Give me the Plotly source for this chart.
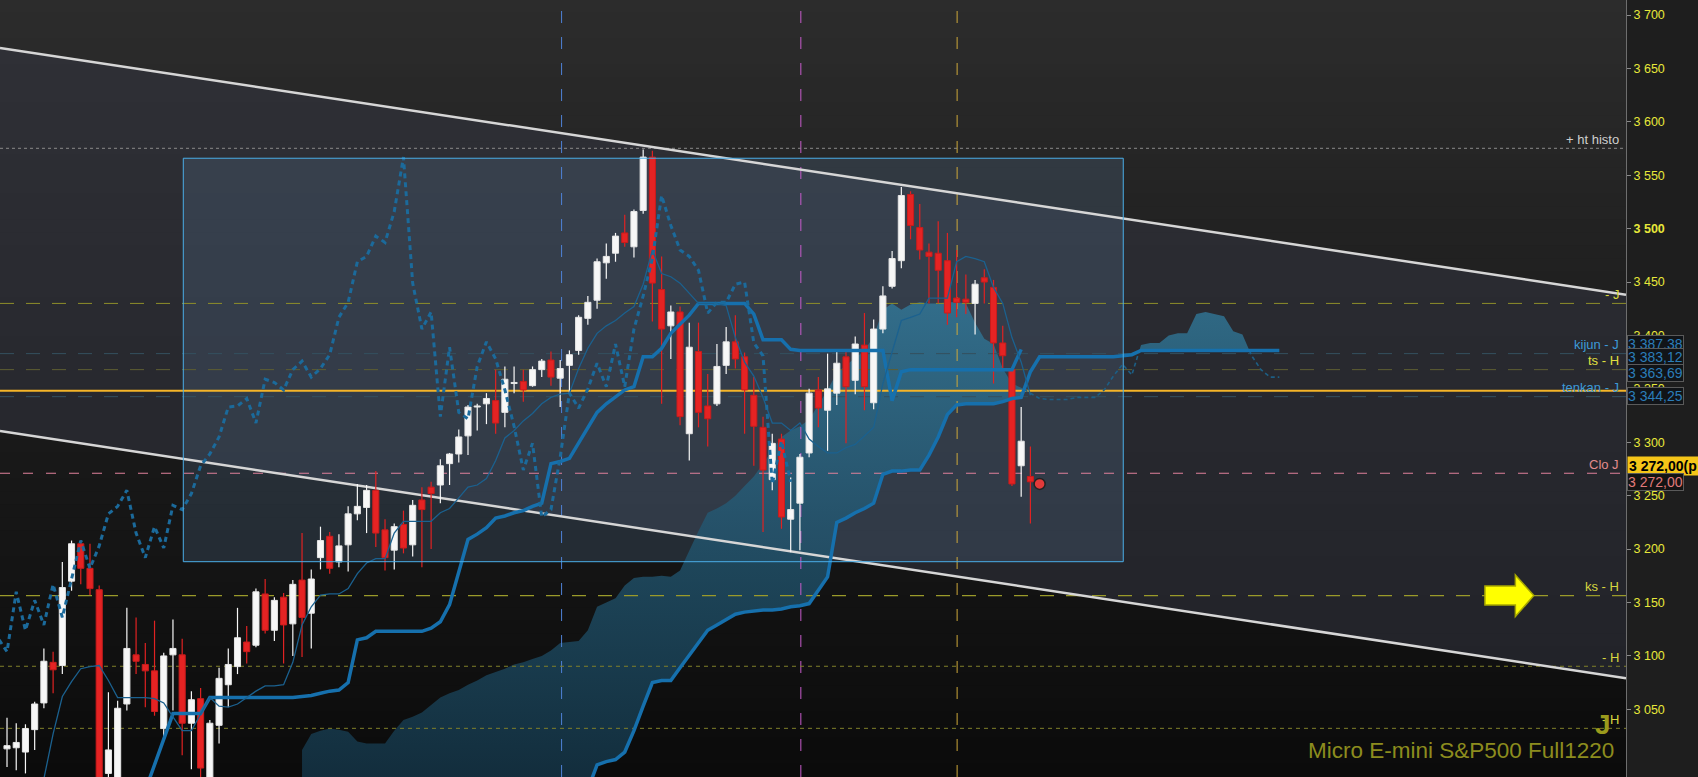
import plotly.graph_objects as go
import numpy as np

# ---------------- data ----------------
opens = [3013,3014,3010,3031,3056,3094,3091,3170,3205,3182,3162,2990,2980,3055,3101,3092,3086,3032,3101,3101,
         3037,3060,2984,3035,3073,3090,3113,3110,3158,3124,3155,3130,3171,3140,3192,3212,3188,3204,3233,3239,
         3255,3218,3199,3223,3204,3246,3258,3260,3280,3289,3306,3333,3336,3339,3328,3355,3357,3353,3368,3377,
         3360,3372,3386,3416,3433,3468,3477,3496,3483,3517,3567,3443,3409,3422,3308,3385,3334,3336,3372,3394,
         3380,3344,3314,3265,3303,3228,3243,3290,3349,3330,3346,3380,3358,3391,3337,3406,3446,3470,3532,3501,
         3478,3477,3470,3435,3434,3430,3454,3445,3393,3368,3278,3268]
highs = [3042,3037,3036,3057,3107,3104,3188,3208,3208,3205,3166,3066,3058,3145,3136,3112,3133,3103,3134,3116,
         3067,3070,3040,3089,3107,3145,3128,3163,3172,3155,3159,3171,3215,3181,3221,3216,3214,3240,3261,3260,
         3273,3228,3224,3236,3246,3258,3263,3284,3290,3312,3335,3336,3346,3368,3371,3371,3368,3371,3378,3385,
         3377,3386,3419,3437,3472,3486,3496,3513,3518,3574,3573,3474,3428,3427,3412,3412,3364,3392,3408,3419,
         3384,3361,3324,3308,3308,3267,3289,3350,3361,3383,3386,3385,3399,3421,3415,3446,3479,3539,3535,3523,
         3486,3507,3496,3480,3457,3452,3462,3452,3409,3368,3333,3296]
lows = [2996,2993,2990,3012,3051,3065,3083,3161,3167,3157,2965,2980,2975,3049,3083,3052,3044,3021,3049,3007,
        2994,2984,2978,3018,3052,3083,3093,3108,3121,3114,3093,3100,3099,3107,3181,3177,3183,3179,3227,3215,
        3202,3180,3181,3196,3193,3183,3200,3243,3260,3281,3288,3311,3317,3308,3314,3346,3338,3352,3361,3353,
        3333,3346,3382,3410,3425,3453,3469,3483,3473,3514,3413,3336,3378,3316,3283,3314,3296,3334,3364,3369,
        3308,3278,3216,3255,3219,3197,3199,3286,3314,3292,3335,3299,3345,3330,3331,3402,3444,3463,3490,3471,
        3430,3430,3410,3417,3420,3401,3430,3355,3367,3259,3249,3224]
closes = [3016,3019,3032,3055,3095,3087,3164,3205,3182,3163,2978,3012,3051,3107,3095,3086,3048,3100,3107,3037,
          3059,2995,3037,3079,3092,3117,3104,3160,3124,3152,3129,3167,3136,3172,3208,3182,3203,3233,3240,3255,
          3215,3192,3221,3201,3241,3237,3252,3278,3289,3305,3333,3334,3341,3318,3359,3356,3349,3368,3376,3361,
          3369,3382,3417,3431,3469,3474,3493,3487,3516,3567,3449,3406,3422,3324,3389,3328,3322,3371,3394,3378,
          3349,3315,3274,3299,3230,3237,3286,3346,3332,3350,3374,3352,3392,3352,3406,3437,3472,3531,3503,3480,
          3474,3461,3421,3431,3431,3448,3450,3393,3381,3261,3301,3263]
bar_idx = list(range(len(opens)))

tenkan_start = 4
tenkan = [2985,3027,3062,3076,3088,3090,3091,3077,3061,3061,3061,3061,3060,3056,3043,3030,3030,3045,3061,3053,
          3052,3055,3061,3067,3072,3072,3073,3094,3129,3146,3157,3158,3158,3163,3177,3187,3191,3191,3215,3226,
          3226,3226,3226,3234,3238,3248,3258,3260,3266,3283,3304,3311,3320,3327,3336,3342,3345,3346,3369,3388,
          3402,3409,3414,3421,3427,3448,3480,3458,3455,3449,3440,3430,3430,3430,3428,3398,3375,3362,3342,3318,
          3318,3311,3318,3303,3296,3290,3290,3295,3298,3306,3314,3355,3385,3414,3417,3420,3435,3435,3435,3469,
          3474,3472,3469,3445,3430,3398,3375,3344]

kijun_start = 15
kijun = [2974,2998,3022,3046,3046,3046,3046,3061,3061,3061,3061,3061,3061,3061,3061,3061,3061,3062,3063,3065,
         3067,3068,3075,3115,3117,3123,3123,3123,3123,3123,3123,3126,3132,3148,3180,3209,3214,3220,3229,3231,
         3234,3236,3240,3243,3280,3282,3285,3299,3314,3328,3336,3342,3349,3352,3380,3380,3388,3402,3410,3419,
         3430,3430,3430,3430,3430,3430,3420,3396,3396,3396,3387,3386,3386,3386,3386,3386,3386,3386,3386,3386,
         3386,3339,3366,3368,3368,3368,3368,3368,3368,3368,3368,3368,3368,3368,3368,3387]

span_start = 32
senkou_a = [3012,3027,3030,3032,3031,3029,3020,3018,3018,3018,3030,3040,3043,3047,3054,3061,3065,3068,3073,3077,
            3082,3085,3088,3092,3094,3097,3100,3105,3112,3113,3114,3124,3146,3150,3154,3166,3173,3174,3174,3175,
            3174,3180,3199,3217,3234,3238,3243,3250,3259,3268,3280,3293,3305,3311,3315,3321,3335,3349,3365,3372,
            3379,3386,3399,3424,3430,3424,3429,3431,3430,3430,3431,3431,3430,3412,3397,3392,3369,3355,3351,3346,
            3341,3340,3340,3340,3342,3342,3342,3349,3362,3373,3363,3391,3393,3393,3400,3402,3402,3420,3422,3420,
            3418,3404,3401,3381,3368,3361,3361]
# first values of span B lie below the visible range (estimated)
senkou_b = [2960]*31 + [2975,2998,3001,3003,3010,3030,3053,3075,3077,3077,3089,3101,3113,3124,3129,3134,3139,3141,
            3142,3143,3143,3144,3146,3147,3149,3162,3174,3225,3229,3234,3238,3243,3270,3273,3273,3274,3274,3288,
            3305,3326,3335,3336,3336,3336,3336,3338,3341,3342,3366,3380,3380,3380,3380,3380,3380,3380,3380,3380,
            3381,3382] + [3386]*16

# drawn objects (values)
trend_x = [-0.76, 175.6]
trend_upper = [3669.1, 3438.1]
trend_lower = [3310.5, 3079.1]
box_x = [19.12, 121.07]
box_y = [3188.2, 3565.9]
vline_x = [60.15, 86.1, 103.05]
vline_colors = ['#4f82d6', '#c85ccc', '#cfa83a']

level_values = [3575.2, 3430.0, 3383.0, 3368.0, 3348.3, 3342.7, 3271.0, 3156.5, 3090.3, 3032.2]
level_colors = ['#8a8a8a', '#8e8e2a', '#34505f', '#5e5e32', '#f5b428', '#34505f', '#e0809a', '#9a9a2a', '#80802a', '#80802a']
level_dash = ['3px,3px', '14px,12px', '14px,12px', '14px,12px', 'solid', '14px,12px', '10px,13px', '14px,12px', '4px,4px', '4px,4px']
level_width = [1, 1, 1, 1, 2, 1, 1.2, 1.2, 1, 1]
level_labels = ['+ ht histo', '- J', 'kijun - J', 'ts - H', '', 'tenkan - J', 'Clo J', 'ks - H', '- H', '- H']
label_colors = ['#cfcfcf', '#d8d83a', '#3d9ad8', '#e0e040', '', '#3d9ad8', '#e28c8c', '#d6d640', '#d8d840', '#d8d840']

box_values = [3387.38, 3383.12, 3363.69, 3344.25]
box_texts = ['3 387,38', '3 383,12', '3 363,69', '3 344,25']
last_price = 3272.00
last_text = '3 272,00(p'
last_text2 = '3 272,00'
next_dot = (112, 3261)

tick_vals = [3050, 3100, 3150, 3200, 3250, 3300, 3350, 3400, 3450, 3500, 3550, 3600, 3650, 3700]
tick_text = ['3 050', '3 100', '3 150', '3 200', '3 250', '3 300', '3 350', '3 400', '3 450', '<b>3 500</b>',
             '3 550', '3 600', '3 650', '3 700']

Y0, Y1 = 2986.65, 3714.04
X0, X1 = -0.76, 175.6
HALF = 0.33  # half body width in bars

fig = go.Figure()

# background gradient bands
shapes = []
nb = 60
for k in range(nb):
    t = (k + 0.5) / nb
    c = int(round(0x2c - (0x2c - 0x0b) * t))
    shapes.append(dict(type='rect', xref='paper', yref='paper', x0=0, x1=1,
                       y0=1 - (k + 1) / nb, y1=1 - k / nb + 0.001,
                       fillcolor=f'rgb({c},{c},{c})', line=dict(width=0), layer='below'))

# channel between the trendlines
fig.add_trace(go.Scatter(x=[trend_x[0], trend_x[1], trend_x[1], trend_x[0]],
                         y=[trend_upper[0], trend_upper[1], trend_lower[1], trend_lower[0]],
                         fill='toself', fillcolor='rgba(52,54,66,0.52)', line=dict(width=0),
                         mode='lines', hoverinfo='skip'))
# box fill
fig.add_trace(go.Scatter(x=[box_x[0], box_x[1], box_x[1], box_x[0]],
                         y=[box_y[0], box_y[0], box_y[1], box_y[1]],
                         fill='toself', fillcolor='rgba(100,140,180,0.2)', line=dict(width=0),
                         mode='lines', hoverinfo='skip'))

# cloud segmentation
sx = np.arange(span_start, span_start + len(senkou_a))
A = np.array(senkou_a, float)
B = np.array(senkou_b, float)


def segments(positive):
    d = A - B
    segs = []
    cx, ca, cb = [], [], []
    for k in range(len(sx)):
        inside = d[k] > 0 if positive else d[k] <= 0
        if inside:
            if not cx and k > 0:
                t = d[k - 1] / (d[k - 1] - d[k])
                xc = sx[k - 1] + t
                yc = A[k - 1] + t * (A[k] - A[k - 1])
                cx.append(xc); ca.append(yc); cb.append(yc)
            cx.append(sx[k]); ca.append(A[k]); cb.append(B[k])
        else:
            if cx:
                t = d[k - 1] / (d[k - 1] - d[k])
                xc = sx[k - 1] + t
                yc = A[k - 1] + t * (A[k] - A[k - 1])
                cx.append(xc); ca.append(yc); cb.append(yc)
                segs.append((cx, ca, cb))
                cx, ca, cb = [], [], []
    if cx:
        segs.append((cx, ca, cb))
    return segs


for cx, ca, cb in segments(True):
    fig.add_trace(go.Scatter(x=list(cx) + list(cx)[::-1], y=list(ca) + list(cb)[::-1],
                             fill='toself', mode='lines', line=dict(width=0),
                             fillgradient=dict(type='vertical',
                                               colorscale=[[0, 'rgba(20,52,70,0.85)'], [0.5, 'rgba(34,86,112,0.8)'],
                                                           [1, 'rgba(50,124,158,0.78)']],
                                               start=2990, stop=3440),
                             hoverinfo='skip'))

# vertical dashed lines
for vx, vc in zip(vline_x, vline_colors):
    fig.add_trace(go.Scatter(x=[vx, vx], y=[Y0, Y1], mode='lines',
                             line=dict(color=vc, width=1, dash='12px,14px'), hoverinfo='skip'))

# horizontal level lines
for v, c, ds, w in zip(level_values, level_colors, level_dash, level_width):
    fig.add_trace(go.Scatter(x=[X0, X1], y=[v, v], mode='lines',
                             line=dict(color=c, width=w, dash=ds), hoverinfo='skip'))

# trendlines
fig.add_trace(go.Scatter(x=trend_x, y=trend_upper, mode='lines', line=dict(color='#d6d6d6', width=2.5), hoverinfo='skip'))
fig.add_trace(go.Scatter(x=trend_x, y=trend_lower, mode='lines', line=dict(color='#d6d6d6', width=2.5), hoverinfo='skip'))

# ---------------- candles (scatter-based so they sit above the fills) ----------------
def candle_traces(up):
    wx, wy, bx, by = [], [], [], []
    for i, o, h, l, c in zip(bar_idx, opens, highs, lows, closes):
        if (c > o) != up:
            continue
        wx += [i, i, None]
        wy += [l, h, None]
        top, bot = max(o, c), min(o, c)
        if top - bot < 0.8:
            top += 0.4; bot -= 0.4
        bx += [i - HALF, i + HALF, i + HALF, i - HALF, i - HALF, None]
        by += [bot, bot, top, top, bot, None]
    return wx, wy, bx, by


for up, fc, lc in [(True, '#f7f7f7', '#e6e6e6'), (False, '#e52323', '#c91c1c')]:
    wx, wy, bx, by = candle_traces(up)
    fig.add_trace(go.Scatter(x=wx, y=wy, mode='lines', line=dict(color=fc if up else '#e02222', width=1.2),
                             hoverinfo='skip'))
    fig.add_trace(go.Scatter(x=bx, y=by, mode='lines', fill='toself', fillcolor=fc,
                             line=dict(color=lc, width=1), hoverinfo='skip'))

# senkou A dashed where below B
for cx, ca, cb in segments(False):
    fig.add_trace(go.Scatter(x=cx, y=ca, mode='lines', line=dict(color='#1d5e84', width=1.6, dash='4px,3px'),
                             hoverinfo='skip'))
# senkou B
fig.add_trace(go.Scatter(x=list(sx), y=senkou_b, mode='lines', line=dict(color='#1670ad', width=3.5), hoverinfo='skip'))
# kijun
fig.add_trace(go.Scatter(x=list(range(kijun_start, kijun_start + len(kijun))), y=kijun, mode='lines',
                         line=dict(color='#1670ad', width=3.5), hoverinfo='skip'))
# tenkan
fig.add_trace(go.Scatter(x=list(range(tenkan_start, tenkan_start + len(tenkan))), y=tenkan, mode='lines',
                         line=dict(color='#1b618f', width=1.3), hoverinfo='skip'))
# chikou (closes displaced 26 bars back)
fig.add_trace(go.Scatter(x=[i - 26 for i in bar_idx], y=closes, mode='lines',
                         line=dict(color='#1b6a9b', width=3, dash='5px,4px'), hoverinfo='skip'))

fig.add_trace(go.Scatter(x=[next_dot[0]], y=[next_dot[1]], mode='markers',
                         marker=dict(size=11, color='#e23a3a', line=dict(color='#222222', width=1.5)),
                         hoverinfo='skip'))

# box border
shapes.append(dict(type='rect', xref='x', yref='y', x0=box_x[0], x1=box_x[1], y0=box_y[0], y1=box_y[1],
                   line=dict(color='#4aaee8', width=1), fillcolor='rgba(0,0,0,0)', layer='above'))
# yellow arrow pointing at the ks - H level
ax0, axm, ax1 = 160.3, 163.6, 165.6
lvl = level_values[7]
path = (f'M {ax0},{lvl - 8.8} L {axm},{lvl - 8.8} L {axm},{lvl - 19.7} L {ax1},{lvl} '
        f'L {axm},{lvl + 19.3} L {axm},{lvl + 9.0} L {ax0},{lvl + 9.0} Z')
shapes.append(dict(type='path', xref='x', yref='y', path=path, fillcolor='#ffff00',
                   line=dict(color='#a6a600', width=1.5), layer='above'))

annotations = []
for v, lab, c in zip(level_values, level_labels, label_colors):
    if not lab:
        continue
    annotations.append(dict(x=1, xref='paper', xanchor='right', xshift=-5, y=v, yref='y', yanchor='middle',
                            yshift=9, text=lab, showarrow=False, font=dict(family='Arial', size=13, color=c)))

box_shifts = [5, -4, 1, -1]
for v, t, s in zip(box_values, box_texts, box_shifts):
    annotations.append(dict(x=1, xref='paper', xanchor='left', xshift=1, y=v, yref='y', yanchor='middle', yshift=s,
                            text=t, showarrow=False, font=dict(family='Arial', size=14, color='#2b7db8'),
                            bgcolor='#111418', bordercolor='#5a5a5a', borderwidth=1, borderpad=0))
annotations.append(dict(x=1, xref='paper', xanchor='left', xshift=1, y=last_price, yref='y', yanchor='middle',
                        yshift=6, text='<b>' + last_text + '</b>', showarrow=False,
                        font=dict(family='Arial', size=14, color='#000000'),
                        bgcolor='#f5c518', borderpad=1))
annotations.append(dict(x=1, xref='paper', xanchor='left', xshift=1, y=last_price, yref='y', yanchor='middle',
                        yshift=-10, text=last_text2, showarrow=False,
                        font=dict(family='Arial', size=14, color='#e07a7a'),
                        bgcolor='#141414', bordercolor='#5a5a5a', borderwidth=1, borderpad=0))
annotations.append(dict(x=1, xref='paper', xanchor='right', xshift=-13, y=1 - 724 / 777, yref='paper',
                        yanchor='middle', text='<b>J</b>', showarrow=False,
                        font=dict(family='Arial', size=28, color='#9a9a1c')))
annotations.append(dict(x=1, xref='paper', xanchor='right', xshift=-10, y=1 - 750 / 777, yref='paper',
                        yanchor='middle', text='Micro E-mini S&P500 Full1220', showarrow=False,
                        font=dict(family='Arial', size=22.5, color='#8c8c1e')))

fig.update_layout(
    width=1698, height=777,
    margin=dict(l=0, r=72, t=0, b=0, pad=0, autoexpand=False),
    paper_bgcolor='#1e1e1e', plot_bgcolor='rgba(0,0,0,0)',
    showlegend=False,
    shapes=shapes, annotations=annotations,
    xaxis=dict(range=[X0, X1], visible=False, fixedrange=True),
    yaxis=dict(side='right', range=[Y0, Y1], tickvals=tick_vals, ticktext=tick_text,
               tickfont=dict(family='Arial', size=12.5, color='#e8e83a'), ticks='outside', ticklen=4,
               tickcolor='#8a8a8a', showgrid=False, zeroline=False, showline=True, linecolor='#6e6e6e',
               linewidth=1, fixedrange=True, automargin=False),
)

fig.write_html('out.html', config={'displayModeBar': False},
               post_script="document.body.style.margin='0';document.body.style.background='#1e1e1e';"
                           "document.body.style.overflow='hidden';")
